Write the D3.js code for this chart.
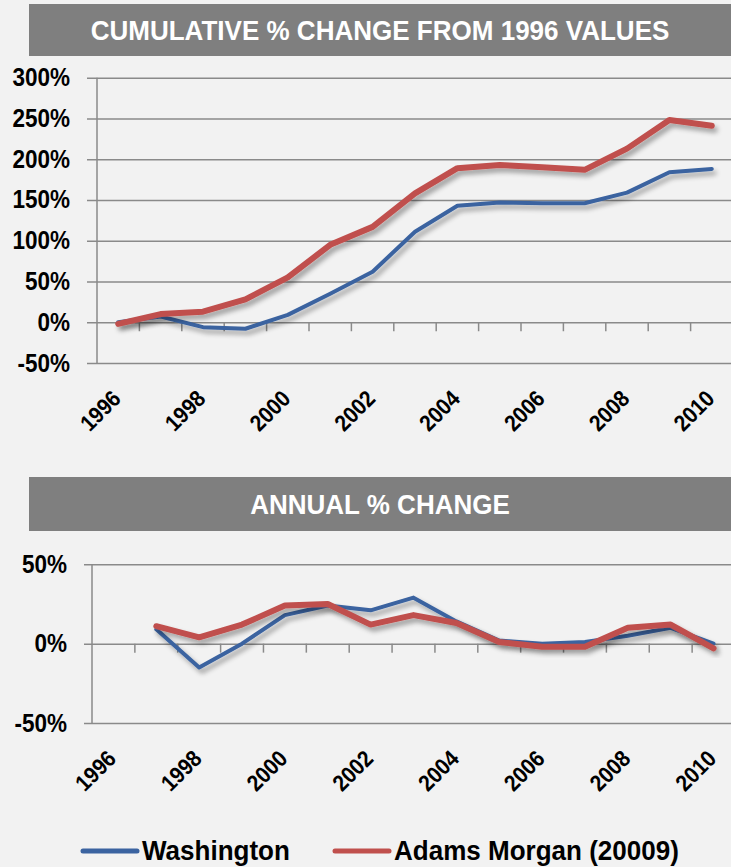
<html>
<head>
<script src="https://cdn.jsdelivr.net/npm/d3@7"></script>
<style>
  body { margin: 0; background: #f2f2f2; }
  svg { display: block; }
  text { font-family: "Liberation Sans", Arial, sans-serif; font-weight: bold; }
</style>
</head>
<body>
<svg width="731" height="867"></svg>
<script>
// data
var years = [1996,1997,1998,1999,2000,2001,2002,2003,2004,2005,2006,2007,2008,2009,2010]
var washCum = [0,7,-6,-8,9,35,62,111,143,147,146,146,159,184,188]
var adamsCum = [-2,10,13,28,55,95,117,158,189,193,190,187,213,248,241]
var washAnnual = [null,9,-15,0,18,24,21,29,14,2,0,1,5,10,0]
var adamsAnnual = [null,11,4,12,24,25,12,18,13,1,-2,-2,10,12,-3]
var cumTicks = [-50,0,50,100,150,200,250,300]
var annualTicks = [-50,0,50]
var labelYears = [1996,1998,2000,2002,2004,2006,2008,2010]
var seriesNames = ['Washington','Adams Morgan (20009)']
var colors = ['#3b63a0','#c0504d']

var squeeze = 0.9   // the original type is a bit condensed

var svg = d3.select('svg')

// soft drop shadow under the lines
var f = svg.append('defs').append('filter').attr('id','shadow')
    .attr('x','-10%').attr('y','-10%').attr('width','120%').attr('height','130%')
f.append('feGaussianBlur').attr('in','SourceAlpha').attr('stdDeviation',2.5)
f.append('feOffset').attr('dx',3).attr('dy',4).attr('result','b')
f.append('feComponentTransfer').append('feFuncA').attr('type','linear').attr('slope',0.35)
var fm = f.append('feMerge')
fm.append('feMergeNode')
fm.append('feMergeNode').attr('in','SourceGraphic')

function titleBar(y, h, label){
    svg.append('rect').attr('x',29).attr('y',y).attr('width',710).attr('height',h)
        .attr('fill','#7f7f7f')
    svg.append('text')
        .attr('transform','translate(380,' + (y + h/2 + 10) + ') scale(0.93,1)')
        .attr('text-anchor','middle').attr('fill','#fff')
        .style('font-size','28px').text(label)
}

function chart(opt){
    var x = d3.scaleBand().domain(years).range([opt.left, opt.right])
    var y = d3.scaleLinear().domain(opt.domain).range([opt.bottom, opt.top])
    var bw = x.bandwidth()
    var g = svg.append('g')

    // gridlines + y labels
    var ya = g.append('g').attr('transform','translate(' + opt.left + ',0)')
        .call(d3.axisLeft(y).tickValues(opt.ticks).tickSize(-(opt.right - opt.left))
            .tickPadding(opt.pad).tickFormat(function(d){ return d + '%' }))
    ya.select('.domain').remove()
    ya.selectAll('line').attr('x1', -opt.tickOut).attr('stroke','#8a8a8a').attr('stroke-width',1.5)
    ya.selectAll('text').attr('fill','#000').style('font-size','25px')
        .attr('x', -opt.pad / squeeze)
        .attr('transform','scale(' + squeeze + ',1)')

    g.append('line').attr('x1',opt.left).attr('x2',opt.left)
        .attr('y1',opt.top).attr('y2',opt.bottom)
        .attr('stroke','#8a8a8a').attr('stroke-width',1.5)

    // category ticks on the 0% line
    g.selectAll('.ct').data(years.slice(1)).enter().append('line')
        .attr('x1',function(d){ return x(d) }).attr('x2',function(d){ return x(d) })
        .attr('y1',y(0)).attr('y2',y(0) + 9)
        .attr('stroke','#8a8a8a').attr('stroke-width',1.5)

    // rotated year labels
    g.selectAll('.yl').data(labelYears).enter().append('text')
        .attr('text-anchor','end')
        .attr('transform',function(d){
            return 'translate(' + (x(d) + bw/2 + 4) + ',' + (opt.bottom + 37) + ') rotate(-45) scale(' + squeeze + ',1)'
        })
        .style('font-size','23px')
        .text(function(d){ return d })

    var line = d3.line()
        .defined(function(d){ return d != null })
        .x(function(d,i){ return x(years[i]) + bw/2 })
        .y(function(d){ return y(d) })

    opt.series.forEach(function(s,k){
        g.append('path').datum(s)
            .attr('d', line)
            .attr('fill','none')
            .attr('stroke', colors[k])
            .attr('stroke-width', k == 0 ? 4 : 6)
            .attr('stroke-linejoin','round')
            .attr('stroke-linecap','round')
            .attr('filter','url(#shadow)')
    })
}

titleBar(4, 52, 'CUMULATIVE % CHANGE FROM 1996 VALUES')
chart({left:97, right:733, top:77.7, bottom:363, domain:[-50,300], ticks:cumTicks,
       pad:27, tickOut:10, series:[washCum, adamsCum]})

titleBar(477, 54, 'ANNUAL % CHANGE')
chart({left:92, right:735, top:564.3, bottom:723, domain:[-50,50], ticks:annualTicks,
       pad:25, tickOut:8, series:[washAnnual, adamsAnnual]})

// legend
var lg = svg.append('g').selectAll('g').data(seriesNames).enter().append('g')
    .attr('transform',function(d,i){ return 'translate(' + [83,335][i] + ',851)' })
lg.append('line').attr('x1',0).attr('x2',54).attr('y1',0).attr('y2',0)
    .attr('stroke-width',5).attr('stroke-linecap','round')
    .attr('stroke',function(d,i){ return colors[i] })
lg.append('text').attr('transform','translate(59,9) scale(0.93,1)').style('font-size','28px')
    .text(function(d){ return d })
</script>
</body>
</html>
